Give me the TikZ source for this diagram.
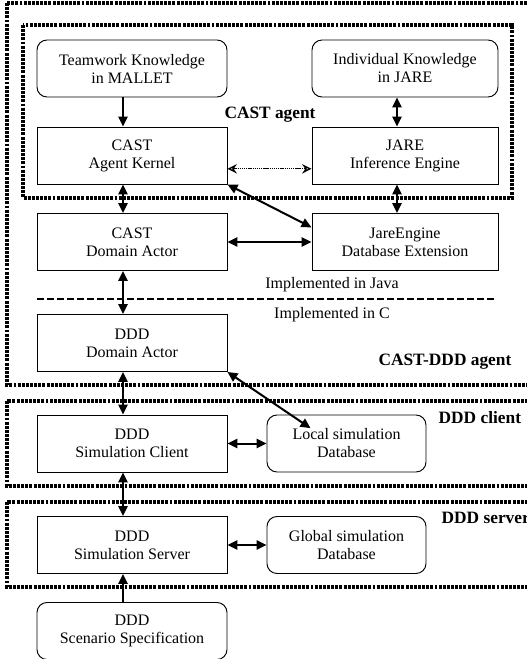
\documentclass[tikz,border=0pt]{standalone}
\usepackage{fontspec}
\setmainfont{Liberation Serif}
\usetikzlibrary{arrows.meta}

\begin{document}
\begin{tikzpicture}[
      x=0.75pt, y=-0.75pt,
      every node/.style={font=\fontsize{12pt}{13.5pt}\selectfont, align=center},
      unit/.style={draw, line width=0.7pt, minimum width=142.5pt, minimum height=42.75pt, inner sep=0pt},
      store/.style={unit, rounded corners=7.5pt},
      group/.style={line width=2.5pt, dash pattern=on 2.2pt off 0.9pt},
      link/.style={line width=1.5pt, {Triangle[length=7.5pt,width=7pt]}-{Triangle[length=7.5pt,width=7pt]}},
      feed/.style={line width=1.5pt, -{Triangle[length=7.5pt,width=7pt]}},
      tag/.style={font=\fontsize{13pt}{15pt}\selectfont\bfseries}
    ]
      \useasboundingbox (0,0) rectangle (527,659);
      \clip (0,0) rectangle (527,659);

      \draw[group] (7,3) rectangle (540,385);
      \draw[group] (23,25) rectangle (512,198);
      \draw[group] (7,401) rectangle (540,486);
      \draw[group] (7,502) rectangle (540,587);

      \node[store] (team) at (132,68.5) {Teamwork Knowledge\\in MALLET};
      \node[store, minimum width=139.5pt] (indk) at (405,68.5) {Individual Knowledge\\in JARE};
      \node[unit] (kernel) at (132,155.5) {CAST\\Agent Kernel};
      \node[unit, minimum width=139.5pt] (jare) at (405,155.5) {JARE\\Inference Engine};
      \node[unit] (cda) at (132,242) {CAST\\Domain Actor};
      \node[unit, minimum width=139.5pt] (jeng) at (405,242) {JareEngine\\Database Extension};
      \node[unit] (ddda) at (132,343) {DDD\\Domain Actor};
      \node[unit] (simc) at (132,443.5) {DDD\\Simulation Client};
      \node[store, minimum width=119.25pt] (ldb) at (346.5,443.5) {Local simulation\\Database};
      \node[unit] (sims) at (132,545) {DDD\\Simulation Server};
      \node[store, minimum width=119.25pt] (gdb) at (346.5,545) {Global simulation\\Database};
      \node[store] (scen) at (132,631) {DDD\\Scenario Specification};

      \node[tag] (castag) at (270,115) {CAST agent};
      \node[tag, anchor=east] (cdag) at (516,362) {CAST-DDD agent};
      \node[tag, anchor=west] (clag) at (434,418) {DDD client};
      \node[tag, anchor=west] (svag) at (437,518) {DDD server};
      \node (java) at (332,285) {Implemented in Java};
      \node (cimp) at (332,315) {Implemented in C};
      \coordinate (langl) at (37,299);
      \coordinate (langr) at (495,299);
      \draw[line width=1.2pt, dash pattern=on 5pt off 2.5pt] (langl) -- (langr);

      \draw[feed] ([xshift=-6.75pt]team.south) -- ([xshift=-6.75pt]kernel.north);
      \draw[link] ([xshift=-6pt]indk.south) -- ([xshift=-6pt]jare.north);
      \draw[link] ([xshift=-6pt]jare.south) -- ([xshift=-6pt]jeng.north);
      \draw[line width=1pt, dash pattern=on 1pt off 0.6pt, {Stealth[open,length=7pt,width=7pt]}-{Stealth[open,length=7pt,width=7pt]}]
        ([yshift=-10pt]kernel.east) -- ([yshift=-10pt]jare.west);
      \draw[link] (kernel.south east) -- ([yshift=11pt]jeng.west);
      \draw[link] ([xshift=-6.75pt]kernel.south) -- ([xshift=-6.75pt]cda.north);
      \draw[link] (cda.east) -- (jeng.west);
      \draw[link] ([xshift=-6.75pt]cda.south) -- ([xshift=-6.75pt]ddda.north);
      \draw[link] ([xshift=-6.75pt]ddda.south) -- ([xshift=-6.75pt]simc.north);
      \draw[link] (ddda.south east) -- ([xshift=-27pt,yshift=11.5pt]ldb.center);
      \draw[link] (simc.east) -- (ldb.west);
      \draw[link] ([xshift=-6.75pt]simc.south) -- ([xshift=-6.75pt]sims.north);
      \draw[link] (sims.east) -- (gdb.west);
      \draw[feed] ([xshift=-6.75pt]scen.north) -- ([xshift=-6.75pt]sims.south);
    \end{tikzpicture}
\end{document}
